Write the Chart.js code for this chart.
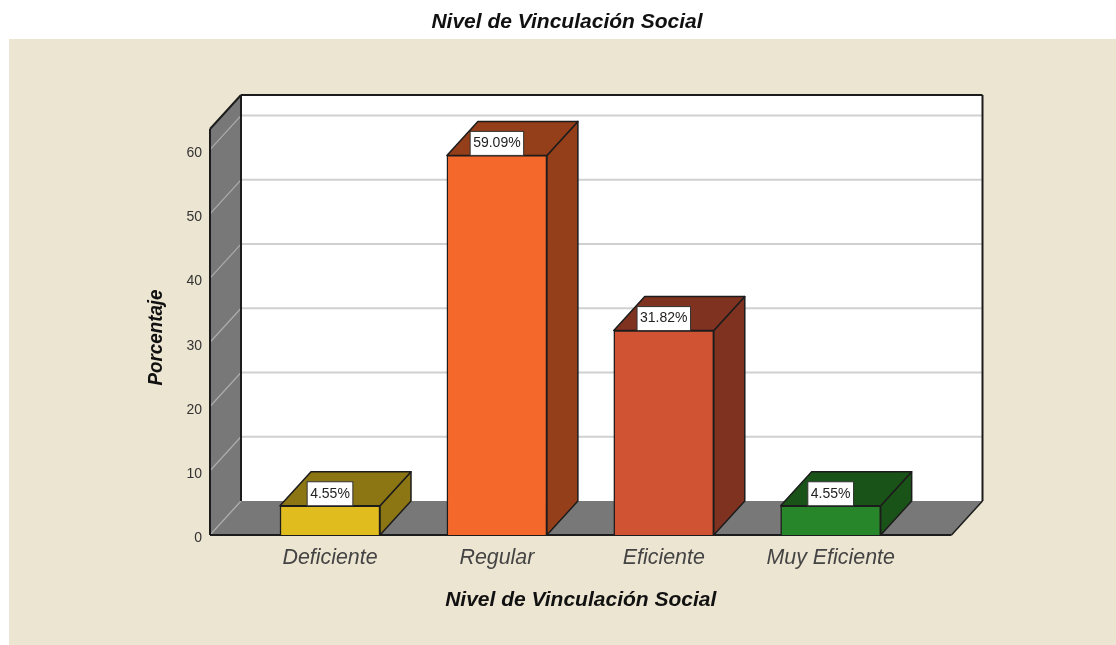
<!DOCTYPE html>
<html>
<head>
<meta charset="utf-8">
<title>Nivel de Vinculación Social</title>
<script src="https://cdn.jsdelivr.net/npm/chart.js@4"></script>
<style>
  html, body { margin: 0; padding: 0; background: #fff; overflow: hidden; }
  canvas { display: block; }
</style>
</head>
<body>
<canvas id="myChart" width="1116" height="645"></canvas>
<script>
const categories = ['Deficiente', 'Regular', 'Eficiente', 'Muy Eficiente'];
const percentages = [4.55, 59.09, 31.82, 4.55];
const valueLabels = ['4.55%', '59.09%', '31.82%', '4.55%'];
const yTicks = [0, 10, 20, 30, 40, 50, 60];
const frontColors = ['#e1bc1e', '#f4682b', '#d05433', '#28862a'];
const sideColors = ['#8c7513', '#943e1a', '#803220', '#1a5317'];

const FONT = '"Liberation Sans", Arial, sans-serif';
const LINE = '#1c1c1c';
const DEPTH_X = 31; // oblique depth of the 3D box
const DEPTH_Y = 34;

function poly(ctx, pts, fill, stroke, width) {
  ctx.beginPath();
  pts.forEach((p, i) => i ? ctx.lineTo(p[0], p[1]) : ctx.moveTo(p[0], p[1]));
  ctx.closePath();
  if (fill) { ctx.fillStyle = fill; ctx.fill(); }
  if (stroke) { ctx.strokeStyle = stroke; ctx.lineWidth = width || 1.5; ctx.lineJoin = 'round'; ctx.stroke(); }
}

function line(ctx, x1, y1, x2, y2, color, width) {
  ctx.beginPath();
  ctx.moveTo(x1, y1);
  ctx.lineTo(x2, y2);
  ctx.strokeStyle = color;
  ctx.lineWidth = width;
  ctx.stroke();
}

// beige panel behind the plot
const panel = {
  id: 'panel',
  beforeDraw(chart) {
    const c = chart.ctx;
    c.save();
    c.fillStyle = '#ece5d1';
    c.fillRect(9, 39, chart.width - 9, chart.height - 39);
    c.restore();
  }
};

// back wall, left wall, floor and the side/top faces of the bars
const box3d = {
  id: 'box3d',
  beforeDatasetsDraw(chart) {
    const c = chart.ctx;
    const { left, right, top, bottom } = chart.chartArea;
    const y = chart.scales.y;
    const dx = DEPTH_X, dy = DEPTH_Y;
    c.save();
    c.fillStyle = '#fff';
    c.fillRect(left + dx, top - dy, right - left, bottom - top);
    poly(c, [[left, bottom], [left + dx, bottom - dy], [right + dx, bottom - dy], [right, bottom]], '#787878');
    poly(c, [[left, top], [left + dx, top - dy], [left + dx, bottom - dy], [left, bottom]], '#787878');

    yTicks.forEach(v => {
      const py = y.getPixelForValue(v);
      line(c, left, py, left + dx, py - dy, '#adadad', 1.2);
      if (v > 0) line(c, left + dx, py - dy, right + dx, py - dy, '#d0d0d0', 2);
    });

    // outlines
    line(c, left, top, left, bottom, LINE, 2);
    line(c, left, top, left + dx, top - dy, LINE, 2);
    line(c, left + dx, top - dy, left + dx, bottom - dy, LINE, 2);
    line(c, left + dx, top - dy, right + dx, top - dy, LINE, 2);
    line(c, right + dx, top - dy, right + dx, bottom - dy, LINE, 2);
    line(c, right + dx, bottom - dy, right, bottom, LINE, 1.5);
    line(c, left, bottom, right, bottom, LINE, 2);

    chart.getDatasetMeta(0).data.forEach((bar, i) => {
      const x1 = bar.x - bar.width / 2, x2 = bar.x + bar.width / 2;
      const yTop = bar.y, yBase = bar.base;
      poly(c, [[x2, yTop], [x2 + dx, yTop - dy], [x2 + dx, yBase - dy], [x2, yBase]], sideColors[i], LINE, 1.5);
      poly(c, [[x1, yTop], [x1 + dx, yTop - dy], [x2 + dx, yTop - dy], [x2, yTop]], sideColors[i], LINE, 1.5);
    });
    c.restore();
  }
};

// white value boxes sitting on the top edge of each bar
const valueBoxes = {
  id: 'valueBoxes',
  afterDatasetsDraw(chart) {
    const c = chart.ctx;
    c.save();
    c.font = '14px ' + FONT;
    c.textAlign = 'center';
    c.textBaseline = 'middle';
    chart.getDatasetMeta(0).data.forEach((bar, i) => {
      const w = c.measureText(valueLabels[i]).width + 6;
      const h = 24;
      c.fillStyle = '#fff';
      c.fillRect(bar.x - w / 2, bar.y - h, w, h);
      c.strokeStyle = '#333';
      c.lineWidth = 1;
      c.strokeRect(bar.x - w / 2, bar.y - h, w, h);
      c.fillStyle = '#222';
      c.fillText(valueLabels[i], bar.x, bar.y - h / 2);
    });
    c.restore();
  }
};

// y axis title sits a little below the plot centre and is narrower than the others
const yTitle = {
  id: 'yTitle',
  afterDraw(chart) {
    const c = chart.ctx;
    c.save();
    c.translate(161.5, 337.5);
    c.rotate(-Math.PI / 2);
    c.font = 'italic bold 20.8px ' + FONT;
    c.textAlign = 'center';
    c.textBaseline = 'alphabetic';
    c.fillStyle = '#111';
    c.fillText('Porcentaje', 0, 0, 96);
    c.restore();
  }
};

const ctx = document.getElementById('myChart').getContext('2d');

new Chart(ctx, {
  type: 'bar',
  data: {
    datasets: [{
      label: 'Porcentaje',
      data: percentages.map((v, i) => ({ x: i, y: v })),
      backgroundColor: frontColors,
      borderColor: LINE,
      borderWidth: 1.5,
      barThickness: 100
    }]
  },
  options: {
    responsive: false,
    animation: false,
    layout: { padding: { left: 18 } },
    plugins: {
      legend: { display: false },
      tooltip: { enabled: false },
      title: {
        display: true,
        text: 'Nivel de Vinculación Social',
        color: '#111',
        font: { family: FONT, size: 21, weight: 'bold', style: 'italic', lineHeight: 1.2 },
        padding: { top: 10, bottom: 93.8 }
      }
    },
    scales: {
      x: {
        type: 'linear',
        offset: false,
        min: -0.719,
        max: 3.724,
        grid: { display: false },
        border: { display: false },
        afterBuildTicks(scale) { scale.ticks = categories.map((c, i) => ({ value: i })); },
        afterFit(scale) { scale.height = 110; },
        ticks: {
          autoSkip: false,
          maxRotation: 0,
          padding: 2,
          color: '#444',
          font: { family: FONT, size: 21.4, style: 'italic' },
          callback: v => categories[v]
        },
        title: {
          display: true,
          text: 'Nivel de Vinculación Social',
          color: '#111',
          font: { family: FONT, size: 21, weight: 'bold', style: 'italic', lineHeight: 1.2 },
          padding: { top: 0, bottom: 32 }
        }
      },
      y: {
        min: 0,
        max: 63.2,
        grid: { display: false },
        border: { display: false },
        afterBuildTicks(scale) { scale.ticks = yTicks.map(v => ({ value: v })); },
        afterFit(scale) { scale.width = 192; },
        ticks: {
          padding: 0,
          color: '#333',
          font: { family: FONT, size: 14, lineHeight: 0.5 },
          callback: v => ['', String(v)] // empty first line nudges the label below its tick
        }
      },
      // empty right axis, only keeps the plot clear of the right margin
      spacer: {
        position: 'right',
        grid: { display: false },
        border: { display: false },
        ticks: { display: false },
        afterFit(scale) { scale.width = 164.5; }
      }
    }
  },
  plugins: [panel, box3d, valueBoxes, yTitle]
});
</script>
</body>
</html>
